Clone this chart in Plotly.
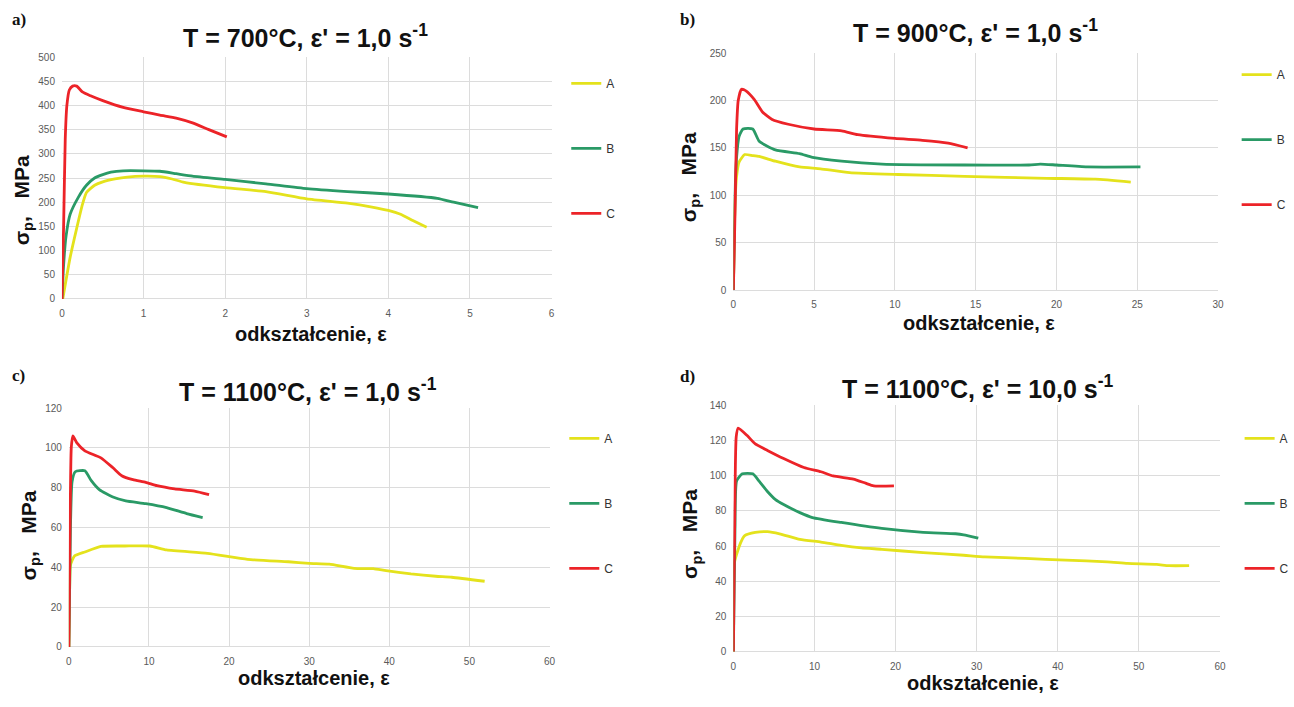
import plotly.graph_objects as go

# ---------------------------------------------------------------------------
# Flow curves: stress sigma_p [MPa] versus strain (odkształcenie) for steels A, B, C
# ---------------------------------------------------------------------------
SERIES = ["A", "B", "C"]
COLORS = {"A": "#e4e21c", "B": "#2a9a66", "C": "#ec2328"}

# a) T = 700°C, strain rate 1.0 1/s
eps_a_A = [0.01, 0.03, 0.1, 0.18, 0.25, 0.3, 0.4, 0.5, 0.65, 0.8, 1.0, 1.2, 1.35, 1.5, 2.0, 2.5, 3.0, 3.5, 3.8, 4.0, 4.15, 4.3, 4.47]
sig_a_A = [0, 20, 86, 146, 195, 220, 235, 242, 248, 252, 254, 253, 248, 241, 230, 222, 207, 198, 190, 183, 175, 162, 148]
eps_a_B = [0.0, 0.02, 0.05, 0.1, 0.2, 0.3, 0.4, 0.5, 0.6, 0.75, 1.0, 1.2, 1.4, 1.6, 2.0, 2.5, 3.0, 3.5, 4.0, 4.6, 4.8, 5.1]
sig_a_B = [0, 70, 130, 175, 210, 235, 250, 257, 262, 265, 265, 264, 259, 254, 247, 238, 228, 222, 217, 208, 200, 189]
eps_a_C = [0.0, 0.02, 0.04, 0.06, 0.09, 0.13, 0.18, 0.25, 0.35, 0.5, 0.75, 1.0, 1.2, 1.4, 1.6, 1.8, 2.02]
sig_a_C = [0, 150, 330, 400, 432, 440, 440, 428, 420, 410, 396, 387, 380, 374, 364, 350, 335]

# b) T = 900°C, strain rate 1.0 1/s
eps_b_A = [0.0, 0.1, 0.2, 0.35, 0.7, 1.2, 1.6, 2.6, 4.1, 5.4, 7.2, 10.2, 14.3, 19.4, 22.4, 24.6]
sig_b_A = [0, 90, 120, 135, 143, 142, 141, 136, 130, 128, 124, 122, 120, 118, 117, 114]
eps_b_B = [0.0, 0.1, 0.2, 0.35, 0.6, 1.2, 1.6, 2.6, 4.1, 4.9, 6.7, 9.2, 14.3, 18.3, 19.0, 20.0, 21.9, 25.2]
sig_b_B = [0, 100, 140, 162, 170, 170, 157, 148, 144, 140, 136, 133, 132, 132, 133, 132, 130, 130]
eps_b_C = [0.0, 0.1, 0.2, 0.3, 0.5, 0.8, 1.3, 1.8, 2.4, 3.4, 5.0, 6.7, 7.7, 10.0, 11.7, 13.3, 14.5]
sig_b_C = [0, 80, 170, 200, 212, 210, 201, 188, 180, 175, 170, 168, 164, 160, 158, 155, 150]

# c) T = 1100°C, strain rate 1.0 1/s
eps_c_A = [0.0, 0.1, 0.2, 0.7, 2.0, 4.0, 7.0, 10.1, 12.2, 17.3, 22.3, 27.4, 30.0, 32.5, 35.6, 38.0, 39.6, 42.7, 45.8, 47.8, 51.9]
sig_c_A = [0, 30, 41, 45.7, 47.7, 50.5, 50.7, 50.7, 48.7, 47, 44, 42.8, 42, 41.6, 39.5, 39.3, 38.3, 36.7, 35.5, 35, 33]
eps_c_B = [0.0, 0.2, 0.4, 0.8, 2.0, 2.8, 3.8, 5.5, 7.1, 9.6, 12.2, 14.7, 16.7]
sig_c_B = [0, 60, 83, 88, 88.5, 83.5, 79, 75.3, 73.4, 72, 70, 67, 65]
eps_c_C = [0.0, 0.15, 0.3, 0.5, 1.0, 2.0, 4.0, 5.5, 6.6, 8.0, 9.6, 11.0, 13.2, 15.7, 17.5]
sig_c_C = [0, 60, 100, 106, 102.5, 98.5, 95, 90, 86, 84, 82.7, 81, 79.4, 78.3, 76.5]

# d) T = 1100°C, strain rate 10.0 1/s
eps_d_A = [0.0, 0.15, 0.9, 1.4, 2.7, 4.2, 5.7, 8.2, 10.8, 13.3, 15.8, 18.3, 23.4, 28.4, 31.0, 36.0, 41.0, 46.1, 48.6, 52.2, 53.7, 56.2]
sig_d_A = [0, 51, 62, 66, 67.8, 68.2, 67, 63.8, 62.3, 60.4, 59, 58.2, 56.3, 54.8, 53.9, 53, 52, 51.1, 50.2, 49.6, 48.9, 48.9]
eps_d_B = [0.0, 0.2, 0.4, 1.1, 2.4, 3.2, 4.2, 5.2, 6.2, 8.2, 9.75, 13.3, 18.3, 23.4, 27.4, 28.4, 30.2]
sig_d_B = [0, 70, 97, 101, 101, 96.7, 91, 86.4, 83.6, 79, 76.2, 73.4, 70, 67.8, 67, 66.4, 64.5]
eps_d_C = [0.0, 0.2, 0.35, 0.6, 1.7, 2.7, 4.2, 6.2, 8.7, 10.8, 12.3, 14.8, 16.3, 17.3, 19.8]
sig_d_C = [0, 90, 122, 127, 122.7, 118, 114.3, 109.7, 104.6, 102.2, 99.8, 98, 95.7, 94.2, 94.2]

TITLES = {
    "a": "T = 700°C, ε' = 1,0 s<sup>-1</sup>",
    "b": "T = 900°C, ε' = 1,0 s<sup>-1</sup>",
    "c": "T = 1100°C, ε' = 1,0 s<sup>-1</sup>",
    "d": "T = 1100°C, ε' = 10,0 s<sup>-1</sup>",
}
X_LABEL = "odkształcenie, ε"
Y_LABEL = "σ<sub>p</sub>,\u00a0\u00a0\u00a0MPa"
X_RANGES = {"a": [0, 6], "b": [0, 30], "c": [0, 60], "d": [0, 60]}
X_DTICK = {"a": 1, "b": 5, "c": 10, "d": 10}
Y_RANGES = {"a": [0, 500], "b": [0, 250], "c": [0, 120], "d": [0, 140]}
Y_DTICK = {"a": 50, "b": 50, "c": 20, "d": 20}

CURVES = {
    "a": {"A": (eps_a_A, sig_a_A), "B": (eps_a_B, sig_a_B), "C": (eps_a_C, sig_a_C)},
    "b": {"A": (eps_b_A, sig_b_A), "B": (eps_b_B, sig_b_B), "C": (eps_b_C, sig_b_C)},
    "c": {"A": (eps_c_A, sig_c_A), "B": (eps_c_B, sig_c_B), "C": (eps_c_C, sig_c_C)},
    "d": {"A": (eps_d_A, sig_d_A), "B": (eps_d_B, sig_d_B), "C": (eps_d_C, sig_d_C)},
}

# ---------------------------------------------------------------------------
# Page geometry (pixels)
# ---------------------------------------------------------------------------
W, H = 1294, 707


def fx(p):
    return p / W


def fy(p):
    return 1 - p / H


# plot boxes: left, right, top, bottom
BOX = {
    "a": (60, 558, 52, 298),
    "b": (743, 1236, 48, 289),
    "c": (67, 556, 409, 652),
    "d": (743, 1238, 406, 657),
}
# positions of the decorations (centres)
LETTER_POS = {"a": (16, 14), "b": (696, 14), "c": (16, 376), "d": (696, 377)}
TITLE_POS = {"a": (308, 31), "b": (989, 25), "c": (310, 391), "d": (992, 388)}
XLAB_POS = {"a": (313, 334), "b": (993, 322), "c": (316, 684), "d": (997, 689)}
YLAB_POS = {"a": (20, 198), "b": (699, 174), "c": (27, 539), "d": (700, 537)}
LEGEND_POS = {"a": (573, 64), "b": (1255, 55), "c": (571, 425), "d": (1258, 425)}

SANS = "Liberation Sans, Arial, Helvetica, sans-serif"
GRID = "#dcdcdc"

fig = go.Figure()
layout = dict(
    width=W,
    height=H,
    margin=dict(l=0, r=0, t=0, b=0),
    paper_bgcolor="white",
    plot_bgcolor="white",
    annotations=[],
)


def label(text, pos, size, family=SANS, angle=0):
    x, y = pos
    return dict(
        text=text, x=fx(x), y=fy(y), xref="paper", yref="paper",
        xanchor="center", yanchor="middle", textangle=angle, showarrow=False,
        font=dict(family=family, size=size, color="#111111"),
    )


for i, key in enumerate(["a", "b", "c", "d"]):
    sfx = "" if i == 0 else str(i + 1)
    leg = "legend" if i == 0 else f"legend{i + 1}"
    for s in SERIES:
        x, y = CURVES[key][s]
        fig.add_trace(go.Scatter(
            x=x, y=y, mode="lines", name=s,
            line=dict(color=COLORS[s], width=2.8, shape="spline", smoothing=0.5),
            xaxis=f"x{sfx}", yaxis=f"y{sfx}",
            legend=leg, legendgroup=f"{key}{s}",
            hoverinfo="skip",
        ))

    l, r, t, b = BOX[key]
    tickfont = dict(family=SANS, size=10, color="#5a5a5a")
    layout[f"xaxis{sfx}"] = dict(
        domain=[fx(l), fx(r)], range=X_RANGES[key], dtick=X_DTICK[key], tick0=0,
        anchor=f"y{sfx}", showgrid=True, gridcolor=GRID, gridwidth=1,
        zeroline=False, showline=False, ticks="", tickfont=tickfont,
        ticklabelstandoff=7,
    )
    layout[f"yaxis{sfx}"] = dict(
        domain=[fy(b), fy(t)], range=Y_RANGES[key], dtick=Y_DTICK[key], tick0=0,
        anchor=f"x{sfx}", showgrid=True, gridcolor=GRID, gridwidth=1,
        zeroline=True, zerolinecolor=GRID, zerolinewidth=1, showline=False, ticks="",
        tickfont=tickfont, ticklabelstandoff=6,
    )

    lx, ly = LEGEND_POS[key]
    layout[leg] = dict(
        x=fx(lx), y=fy(ly), xanchor="left", yanchor="top",
        bgcolor="rgba(0,0,0,0)", font=dict(family=SANS, size=12, color="#333333"),
        tracegroupgap=46, itemwidth=30, itemclick=False, itemdoubleclick=False,
    )

    layout["annotations"] += [
        label(f"<b>{key})</b>", LETTER_POS[key], 17, "Liberation Serif, Times New Roman, serif"),
        label(f"<b>{TITLES[key]}</b>", TITLE_POS[key], 25),
        label(f"<b>{X_LABEL}</b>", XLAB_POS[key], 20),
        label(f"<b>{Y_LABEL}</b>", YLAB_POS[key], 21, angle=-90),
    ]

fig.update_layout(**layout)
fig.write_html("out.html")
